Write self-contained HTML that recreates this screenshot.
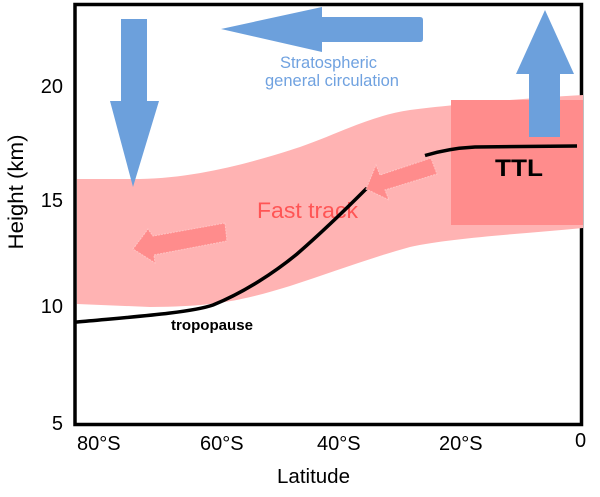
<!DOCTYPE html>
<html><head><meta charset="utf-8"><style>
html,body{margin:0;padding:0;background:#fff;}
svg{display:block;font-family:"Liberation Sans",Arial,sans-serif;}
</style></head><body>
<svg width="600" height="497" viewBox="0 0 600 497" xmlns="http://www.w3.org/2000/svg">
<rect x="0" y="0" width="600" height="497" fill="#fff"/>
<!-- frame -->
<rect x="75" y="4.5" width="506.5" height="420" fill="none" stroke="#000" stroke-width="3.5"/>
<!-- pink band -->
<path d="M77,179 L140,179 C200,178 260,160 300,147 C340,133 370,116 410,110 C450,105 500,100 583,95 L583,228 C520,234 450,238 410,247 C370,258 330,273 290,286 C250,298 220,307 150,307 L77,304 Z" fill="#FFB3B3"/>
<!-- TTL box -->
<rect x="451" y="100" width="132" height="125" fill="#FF8C8C"/>
<!-- blue arrows -->
<polygon points="529,137 529,74 516,74 545,10 574,74 560,74 560,137" fill="#6CA0DC"/>
<polygon points="121,19 147,19 147,101 159,101 133,187 110,101 121,101" fill="#6CA0DC"/>
<path d="M420,17 Q423,17 423,20 L423,39 Q423,42 420,42 L322,42 L322,52 L221,29 L322,7 L322,17 Z" fill="#6CA0DC"/>
<!-- Fast track text -->
<text x="257" y="218" font-size="22.5" fill="#FF5555" textLength="101" lengthAdjust="spacingAndGlyphs">Fast track</text>
<!-- tropopause line -->
<path d="M77,322 C130,317 190,313 213,305 C245,292 275,272 297,254 C320,234 345,210 366,189" fill="none" stroke="#000" stroke-width="3.5" stroke-linecap="round"/>
<path d="M425,155.5 C440,151 455,148 475,147 L577,146" fill="none" stroke="#000" stroke-width="3.5"/>
<!-- pink fast track arrows -->
<polygon points="225,223 153,236 148,229 133,249 155,263 154,255 227,241" fill="#FF8C8C" stroke="#FFC4C4" stroke-width="1" stroke-dasharray="2,1"/>
<polygon points="431,158 380,175 376,165 366,189 389,200 385,190 437,174" fill="#FF8C8C" stroke="#FFC4C4" stroke-width="1" stroke-dasharray="2,1"/>
<!-- texts -->
<text x="280" y="68" font-size="16.5" fill="#70A2E0" textLength="97" lengthAdjust="spacingAndGlyphs">Stratospheric</text>
<text x="265" y="86" font-size="16.5" fill="#70A2E0" textLength="134" lengthAdjust="spacingAndGlyphs">general circulation</text>
<text x="495" y="176" font-size="24" font-weight="bold" fill="#000" textLength="48" lengthAdjust="spacingAndGlyphs">TTL</text>
<text x="171" y="330" font-size="14.5" font-weight="bold" fill="#000" textLength="82" lengthAdjust="spacingAndGlyphs">tropopause</text>
<!-- y ticks -->
<g font-size="20" fill="#000" text-anchor="end">
<text x="63" y="93">20</text>
<text x="63" y="207">15</text>
<text x="63" y="313">10</text>
<text x="63" y="430">5</text>
</g>
<!-- x ticks -->
<g font-size="20" fill="#000">
<text x="77" y="450">80°S</text>
<text x="200" y="450">60°S</text>
<text x="317" y="450">40°S</text>
<text x="439" y="450">20°S</text>
<text x="575" y="447">0</text>
</g>
<text x="277" y="483" font-size="20" fill="#000" textLength="73" lengthAdjust="spacingAndGlyphs">Latitude</text>
<text transform="translate(23,192) rotate(-90)" x="0" y="0" font-size="21.5" fill="#000" text-anchor="middle" textLength="115" lengthAdjust="spacingAndGlyphs">Height (km)</text>
</svg>
</body></html>
